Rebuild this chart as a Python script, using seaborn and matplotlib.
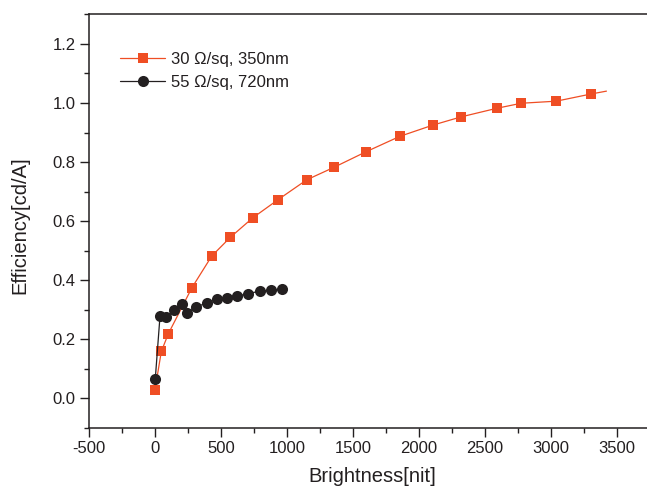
import matplotlib
matplotlib.use("Agg")
import matplotlib.pyplot as plt
from matplotlib.ticker import MultipleLocator
import seaborn as sns
import pandas as pd

# Efficiency vs. brightness for two electrode films
bright_30 = [0, 48, 101, 280, 430, 570, 740, 930, 1150, 1355, 1595, 1855,
             2105, 2320, 2590, 2775, 3040, 3300, 3420]
eff_30 = [0.030, 0.159, 0.219, 0.375, 0.482, 0.545, 0.611, 0.672, 0.740,
          0.782, 0.834, 0.887, 0.925, 0.953, 0.982, 0.999, 1.006, 1.030, 1.040]
# the last point of this curve is drawn as line only
marked_30 = list(range(len(bright_30) - 1))

bright_55 = [2, 38, 83, 146, 205, 242, 313, 392, 467, 543, 619, 705, 795,
             879, 962]
eff_55 = [0.066, 0.279, 0.276, 0.300, 0.318, 0.290, 0.310, 0.323, 0.335,
          0.340, 0.346, 0.355, 0.363, 0.366, 0.371]

label_30 = "30 \u03a9/sq, 350nm"
label_55 = "55 \u03a9/sq, 720nm"

x_ticks = [-500, 0, 500, 1000, 1500, 2000, 2500, 3000, 3500]
y_ticks = [0.0, 0.2, 0.4, 0.6, 0.8, 1.0, 1.2]

RED = "#EF4E24"
DARK = "#231F20"

sns.set_style("ticks")
plt.rcParams["font.family"] = ["Liberation Sans", "DejaVu Sans"]
plt.rcParams["text.color"] = DARK
plt.rcParams["axes.labelcolor"] = DARK
plt.rcParams["xtick.color"] = DARK
plt.rcParams["ytick.color"] = DARK
plt.rcParams["axes.edgecolor"] = DARK

W, H = 647, 490
fig = plt.figure(figsize=(W / 100, H / 100), dpi=100)

x_lim = (-500, 3800)
px_per_unit = 66 / 500
ax_left, ax_bottom, ax_top = 89, 428, 14.3
ax_width = (x_lim[1] - x_lim[0]) * px_per_unit
ax = fig.add_axes([ax_left / W, 1 - ax_bottom / H, ax_width / W,
                   (ax_bottom - ax_top) / H])

df30 = pd.DataFrame({"Brightness": bright_30, "Efficiency": eff_30})
df55 = pd.DataFrame({"Brightness": bright_55, "Efficiency": eff_55})

sns.lineplot(data=df30, x="Brightness", y="Efficiency", ax=ax,
             estimator=None, sort=False, color=RED, lw=0.9,
             marker="s", markersize=7.3, markeredgewidth=0,
             markerfacecolor=RED, markevery=marked_30, label=label_30)
sns.lineplot(data=df55, x="Brightness", y="Efficiency", ax=ax,
             estimator=None, sort=False, color=DARK, lw=0.9,
             marker="o", markersize=8, markeredgewidth=0,
             markerfacecolor=DARK, label=label_55)

ax.set_xlim(*x_lim)
ax.set_ylim(-0.1, 1.3)
ax.set_xticks(x_ticks)
ax.set_xticklabels([f"{v:d}" for v in x_ticks])
ax.set_yticks(y_ticks)
ax.set_yticklabels([f"{v:.1f}" for v in y_ticks])
ax.xaxis.set_minor_locator(MultipleLocator(250))
ax.yaxis.set_minor_locator(MultipleLocator(0.1))

for side in ("left", "bottom", "top", "right"):
    ax.spines[side].set_visible(True)
    ax.spines[side].set_linewidth(1.1)

ax.tick_params(which="major", direction="out", length=6.5, width=1.0,
               labelsize=12, pad=3)
ax.tick_params(which="minor", direction="out", length=3.5, width=1.0)

ax.set_xlabel("Brightness[nit]", fontsize=14.5)
ax.set_ylabel("Efficiency[cd/A]", fontsize=14.5)
ax.xaxis.set_label_coords((372 - ax_left) / ax_width, -0.094)
ax.yaxis.set_label_coords((29.5 - ax_left) / ax_width, 0.49)

leg = ax.legend(loc="upper left", bbox_to_anchor=(120 / W, 1 - 52 / H),
                bbox_transform=fig.transFigure, frameon=False, fontsize=12,
                borderpad=0, borderaxespad=0, handlelength=2.7,
                handletextpad=0.35, labelspacing=0.45)

fig.savefig("out.png", dpi=100)
